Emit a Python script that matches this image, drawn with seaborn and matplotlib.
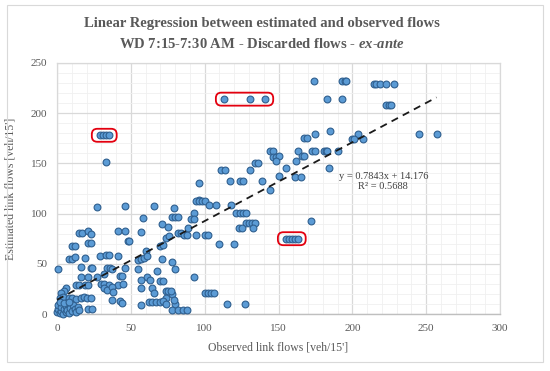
import numpy as np
import pandas as pd
import matplotlib
matplotlib.use("Agg")
import matplotlib.pyplot as plt
import seaborn as sns
from matplotlib.patches import FancyBboxPatch, Rectangle
from matplotlib.ticker import MultipleLocator
from matplotlib.transforms import IdentityTransform

# ---------------- data ----------------
observed = [
    # top region
    29, 31, 33, 35, 33,
    113, 131, 141,
    174, 193, 195, 196,
    215, 216, 219, 223, 228,
    183, 193,
    223, 225, 226,
    167, 169, 175, 185, 204, 200, 201, 207, 245, 257,
    163, 166, 167, 162, 173, 175, 181, 182, 183, 190, 184, 161, 165,
    # middle region
    144, 146, 146, 148, 150, 148, 134, 136, 111, 114, 131, 155,
    117, 124, 126, 139, 150, 96, 144, 96,
    # x 78-175, y 0-115
    94, 96, 98, 100, 103, 108, 118, 79, 93, 121, 124, 126, 128,
    78, 80, 82, 91, 93, 128, 130, 132, 134, 89, 123, 125, 133,
    82, 84, 86, 88, 94, 100, 102, 110, 120,
    155, 157, 159, 161, 163, 172,
    78, 80, 93, 100, 102, 104, 106, 78, 80, 115, 127, 78, 82, 85, 88,
    # x 0-80
    27, 46, 66, 58, 71, 75,
    15, 17, 21, 23, 41, 46, 57, 74, 76,
    21, 23, 10, 12, 48, 49, 70, 72, 60,
    8, 10, 12, 19, 29, 33, 35, 41, 55, 57, 59, 61, 71,
    1, 16, 23, 24, 34, 36, 37, 46, 55, 68,
    32, 27, 43, 44, 16, 21, 61, 63, 57, 70, 72,
    30, 32, 35, 41, 45, 13, 15, 19, 21,
    6, 5, 3, 32, 34, 37, 38, 57, 64, 66, 74, 75, 77,
    2, 4, 8, 10, 13, 16, 18, 20, 23, 37, 43, 44, 74, 79,
    62, 64, 67, 70, 72, 74, 57, 21, 24,
    0, 1, 1, 2, 3, 3, 4, 5, 6, 6, 7, 8, 9, 10, 11, 12, 13, 14, 15, 2, 5, 8,
]
estimated = [
    178, 178, 178, 178, 151,
    214, 214, 214,
    232, 232, 232, 232,
    229, 229, 229, 229, 229,
    214, 214,
    208, 208, 208,
    175, 175, 179, 182, 179, 174, 174, 174, 179, 179,
    162, 157, 157, 152, 162, 162, 162, 162, 162, 162, 145, 136, 136,
    162, 162, 156, 156, 157, 152, 150, 150, 143, 143, 143, 145,
    132, 132, 132, 132, 137, 130, 124, 114,
    113, 113, 113, 113, 109, 109, 109, 106, 101, 101, 101, 101, 101,
    97, 97, 97, 95, 95, 91, 91, 91, 91, 86, 86, 86, 86,
    81, 81, 79, 79, 79, 79, 79, 70, 70,
    75, 75, 75, 75, 75, 93,
    52, 45, 37, 21, 21, 21, 21, 20, 10, 10, 10, 4, 4, 4, 4,
    107, 108, 108, 96, 90, 87,
    81, 81, 83, 80, 83, 83, 82, 76, 78,
    71, 71, 68, 68, 73, 73, 68, 69, 63,
    55, 55, 57, 56, 58, 59, 59, 58, 54, 55, 56, 58, 55,
    45, 47, 46, 46, 46, 46, 45, 46, 45, 43,
    40, 37, 38, 38, 37, 37, 37, 34, 34, 33, 33,
    30, 30, 29, 29, 30, 29, 29, 29, 29,
    26, 23, 21, 26, 24, 27, 22, 26, 26, 21, 23, 23, 23,
    16, 17, 16, 16, 15, 16, 17, 16, 16, 14, 13, 11, 16, 14,
    12, 12, 12, 12, 13, 10, 9, 5, 5,
    2, 5, 9, 1, 3, 7, 0, 5, 2, 8, 4, 1, 6, 3, 9, 5, 2, 7, 4, 12, 11, 12,
]
slope = 0.7843
intercept = 14.176
r_squared = 0.5688
x_ticks = [0, 50, 100, 150, 200, 250, 300]
y_ticks = [0, 50, 100, 150, 200, 250]
title_line1 = "Linear Regression between estimated and observed flows"
title_line2 = "WD 7:15-7:30 AM - Discarded flows - "
title_italic = "ex-ante"
x_label = "Observed link flows [veh/15']"
y_label = "Estimated link flows [veh/15']"
# highlighted groups: (x range, y value) of the circled points
highlights = [((20, 45), 178), ((100, 150), 214), ((150, 170), 75)]

df = pd.DataFrame({"observed": observed, "estimated": estimated})

# ---------------- figure ----------------
sns.set_style("white")
plt.rcParams["font.family"] = ["Liberation Serif", "DejaVu Serif"]
plt.rcParams["mathtext.fontset"] = "custom"
plt.rcParams["mathtext.it"] = "Liberation Serif:italic:bold"
plt.rcParams["mathtext.rm"] = "Liberation Serif:bold"

fig = plt.figure(figsize=(5.5, 3.71), dpi=100)
ax = fig.add_axes([57 / 550, 1 - 314 / 371, 443 / 550, 251 / 371])

ax.set_xlim(x_ticks[0], x_ticks[-1])
ax.set_ylim(y_ticks[0], y_ticks[-1])
ax.xaxis.set_major_locator(MultipleLocator(50))
ax.yaxis.set_major_locator(MultipleLocator(50))
ax.xaxis.set_minor_locator(MultipleLocator(10))
ax.yaxis.set_minor_locator(MultipleLocator(10))
ax.grid(which="minor", color="#F0F0F0", lw=0.6, zorder=0)
ax.grid(which="major", color="#D9D9D9", lw=0.9, zorder=0)
ax.set_axisbelow(True)
for s in ["top", "right", "left"]:
    ax.spines[s].set_color("#D9D9D9")
    ax.spines[s].set_linewidth(0.9)
ax.spines["bottom"].set_color("#BFBFBF")
ax.spines["bottom"].set_linewidth(1.0)
ax.tick_params(which="both", length=0, labelsize=8, labelcolor="#595959", pad=7)

sns.scatterplot(data=df, x="observed", y="estimated", ax=ax, s=24,
                color="#5B9BD5", edgecolor="#2F5F8F", linewidth=0.8,
                zorder=3, clip_on=False, legend=False)

xs = np.array([df["observed"].min(), df["observed"].max()])
ax.plot(xs, slope * xs + intercept, color="#1a1a1a", lw=1.3,
        dashes=(4, 3), zorder=4)

ax.set_xlabel(x_label, fontsize=8.5, color="#595959", labelpad=6)
ax.set_ylabel(y_label, fontsize=8.5, color="#595959", labelpad=10)

eq_x = 221
ax.text(eq_x, 137, f"y = {slope}x + {intercept}", ha="center", va="center",
        fontsize=7.5, color="#404040", zorder=5)
ax.text(eq_x, 127, f"R² = {r_squared}", ha="center", va="center",
        fontsize=7.5, color="#404040", zorder=5)

# highlight boxes computed from the circled points
for (xr, yv) in highlights:
    sel = df[(df["observed"] >= xr[0]) & (df["observed"] <= xr[1]) & (df["estimated"] == yv)]
    p0 = ax.transData.transform((sel["observed"].min(), yv))
    p1 = ax.transData.transform((sel["observed"].max(), yv))
    padx, h = 8, 13
    box = FancyBboxPatch((p0[0] - padx, p0[1] - h / 2), (p1[0] - p0[0]) + 2 * padx, h,
                         boxstyle="round,pad=0,rounding_size=5.5",
                         transform=IdentityTransform(), fill=False,
                         edgecolor="#E3000F", lw=1.3, zorder=6)
    fig.add_artist(box)

fig.text(0.476, 1 - 24 / 371, title_line1, ha="center", va="center",
         fontsize=10.5, fontweight="bold", color="#595959")
fig.text(0.476, 1 - 44 / 371,
         title_line2 + r"$\mathit{ex}$-$\mathit{ante}$",
         ha="center", va="center", fontsize=10.5, fontweight="bold", color="#595959")

fig.add_artist(Rectangle((7 / 550, 1 - 362 / 371), 536 / 550, 357 / 371,
                         transform=fig.transFigure, fill=False,
                         edgecolor="#D9D9D9", lw=0.8))

fig.savefig("out.png", dpi=100)
